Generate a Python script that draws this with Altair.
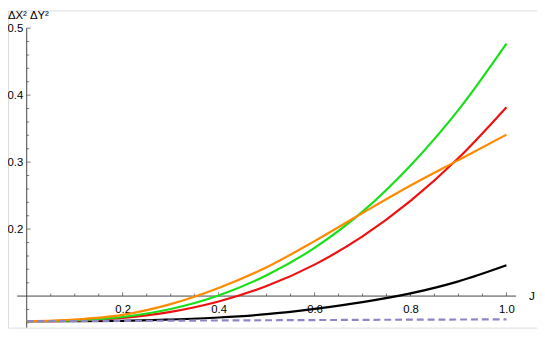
import altair as alt
import pandas as pd

# ---- data ----
J = [0.0, 0.1, 0.2, 0.3, 0.4, 0.5, 0.6, 0.7, 0.8, 0.9, 1.0]
black = [0.0625, 0.0626, 0.063, 0.065, 0.068, 0.073, 0.081, 0.091, 0.104, 0.122, 0.146]
red = [0.0625, 0.0633, 0.0674, 0.0765, 0.092, 0.115, 0.147, 0.189, 0.242, 0.306, 0.382]
green = [0.0625, 0.0635, 0.0688, 0.0807, 0.1009, 0.131, 0.172, 0.226, 0.295, 0.378, 0.477]
orange = [0.0625, 0.065, 0.072, 0.088, 0.112, 0.143, 0.182, 0.224, 0.265, 0.303, 0.341]
purple = [0.0625, 0.0628, 0.063, 0.0633, 0.0636, 0.0639, 0.0642, 0.0645, 0.0648, 0.065, 0.0653]

x_major = [0.2, 0.4, 0.6, 0.8, 1.0]
x_minor = [0.05, 0.1, 0.15, 0.25, 0.3, 0.35, 0.45, 0.5, 0.55, 0.65, 0.7, 0.75, 0.85, 0.9, 0.95]
y_major = [0.2, 0.3, 0.4, 0.5]
y_minor = [0.04, 0.06, 0.08, 0.12, 0.14, 0.16, 0.18, 0.22, 0.24, 0.26, 0.28,
           0.32, 0.34, 0.36, 0.38, 0.42, 0.44, 0.46, 0.48]

y_title = "ΔX² ΔY²"
x_title = "J"

series = [
    ("black", black, "#000000", None),
    ("red", red, "#f01010", None),
    ("green", green, "#18e018", None),
    ("orange", orange, "#ff8a00", None),
    ("purple", purple, "#8d86c6", [7, 4]),
]

W, H = 537, 322
FONT = "Liberation Sans"
AX = "#444444"

xs = alt.Scale(domain=[-0.0390, 1.0637], nice=False, zero=False)
ys = alt.Scale(domain=[0.05294, 0.52647], nice=False, zero=False)

xaxis = alt.Axis(orient="bottom", offset=-32, values=x_major, format=".1f",
                 domain=False, ticks=False, grid=False, title=None,
                 labelPadding=8, labelFontSize=11.5, labelFont=FONT,
                 labelColor="#000000", labelFlush=False)
yaxis = alt.Axis(orient="left", offset=-19, values=y_major, format=".1f",
                 domain=False, ticks=False, grid=False, title=None,
                 labelPadding=4, labelFontSize=11.5, labelFont=FONT,
                 labelColor="#000000")

def X(field):
    return alt.X(field, type="quantitative", scale=xs, axis=xaxis)

def Y(field):
    return alt.Y(field, type="quantitative", scale=ys, axis=yaxis)

def XD(v):
    return alt.XDatum(v, type="quantitative", scale=xs, axis=xaxis)

def YD(v):
    return alt.YDatum(v, type="quantitative", scale=ys, axis=yaxis)

one = pd.DataFrame({"a": [0]})

layers = []

# axis lines
layers.append(alt.Chart(one).mark_rule(color=AX, strokeWidth=1).encode(
    x=XD(-0.02), x2=alt.X2Datum(1.02), y=YD(0.1)))
layers.append(alt.Chart(one).mark_rule(color=AX, strokeWidth=1).encode(
    x=XD(0), y=YD(0.5), y2=alt.value(H)))

# ticks
xt_major = pd.DataFrame({"t": x_major})
xt_minor = pd.DataFrame({"t": x_minor})
yt_major = pd.DataFrame({"t": y_major})
yt_minor = pd.DataFrame({"t": y_minor})
layers.append(alt.Chart(xt_major).mark_tick(orient="vertical", size=4, thickness=1,
                                            color=AX, yOffset=-2).encode(x=X("t"), y=YD(0.1)))
layers.append(alt.Chart(xt_minor).mark_tick(orient="vertical", size=2.5, thickness=1,
                                            color=AX, yOffset=-1.25).encode(x=X("t"), y=YD(0.1)))
layers.append(alt.Chart(yt_major).mark_tick(orient="horizontal", size=4, thickness=1,
                                            color=AX, xOffset=2).encode(x=XD(0), y=Y("t")))
layers.append(alt.Chart(yt_minor).mark_tick(orient="horizontal", size=2.5, thickness=1,
                                            color=AX, xOffset=1.25, clip=True).encode(x=XD(0), y=Y("t")))

# curves
for name, vals, col, dash in series:
    df = pd.DataFrame({"J": J, "v": vals})
    kw = dict(color=col, strokeWidth=2.2, interpolate="monotone", clip=True)
    if dash:
        kw["strokeDash"] = dash
    layers.append(alt.Chart(df).mark_line(**kw).encode(x=X("J"), y=Y("v")))

# axis labels
layers.append(alt.Chart(one).mark_text(text=x_title, align="left", baseline="middle",
                                       font=FONT, fontSize=12, color="#000000").encode(
    x=XD(1.047), y=YD(0.1)))
layers.append(alt.Chart(one).mark_text(text=y_title, align="left", baseline="alphabetic",
                                       font=FONT, fontSize=11.5, color="#000000").encode(
    x=alt.value(0), y=alt.value(9)))

chart = alt.layer(*layers).properties(
    width=W, height=H, padding=0, autosize=alt.AutoSizeParams(type="none")
).configure_view(stroke=None).configure(background="white")

chart.save("out.html", embed_options={"renderer": "svg", "actions": False})
